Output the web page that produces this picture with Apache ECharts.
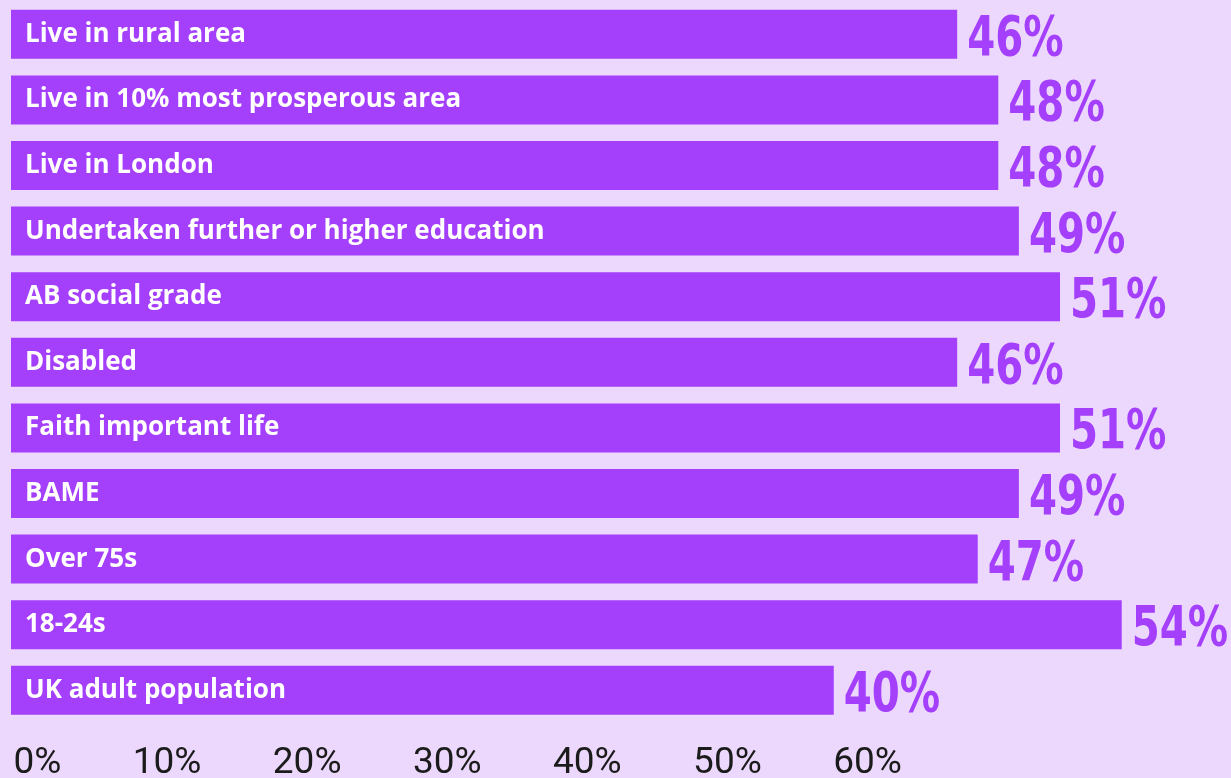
<!DOCTYPE html>
<html>
<head>
<meta charset="utf-8">
<script src="https://cdn.jsdelivr.net/npm/echarts@6/dist/echarts.min.js"></script>
<style>
html,body{margin:0;padding:0;background:#ECD8FC;}
#chart{width:1231px;height:778px;}
</style>
</head>
<body>
<div id="chart"></div>
<script>
const categories = [
  "Live in rural area",
  "Live in 10% most prosperous area",
  "Live in London",
  "Undertaken further or higher education",
  "AB social grade",
  "Disabled",
  "Faith important life",
  "BAME",
  "Over 75s",
  "18-24s",
  "UK adult population"
];
const values = [46, 48, 48, 49, 51, 46, 51, 49, 47, 54, 40];
const tickLabels = ["0%", "10%", "20%", "30%", "40%", "50%", "60%"];

const purple = '#A43FFB';
const chart = echarts.init(document.getElementById('chart'), null, {renderer: 'canvas'});
chart.setOption({
  backgroundColor: '#ECD8FC',
  animation: false,
  grid: [
    {left: 11, right: 27, top: 1.5, height: 721.6, containLabel: false, outerBoundsMode: 'none'},
    {left: 61.3, width: 840.6, top: 713.5, height: 50, containLabel: false, outerBoundsMode: 'none'}
  ],
  xAxis: [
    {type: 'value', gridIndex: 0, min: 0, max: 58, show: false},
    {type: 'value', gridIndex: 1, min: 0, max: 60, interval: 10,
     axisLine: {show: false}, axisTick: {show: false}, splitLine: {show: false},
     axisLabel: {show: true, margin: 0, align: 'right', verticalAlign: 'middle',
       fontFamily: 'Roboto', fontSize: 37, color: '#1b1b1b',
       showMinLabel: true, showMaxLabel: true, hideOverlap: false,
       formatter: function (v) { return tickLabels[Math.round(v / 10)]; }}}
  ],
  yAxis: [
    {type: 'category', gridIndex: 0, data: categories, inverse: true, show: false},
    {type: 'value', gridIndex: 1, show: false, min: 0, max: 1}
  ],
  series: [
    {
      type: 'bar', xAxisIndex: 0, yAxisIndex: 0,
      data: values, barWidth: 49,
      itemStyle: {color: purple},
      label: {show: true, position: 'insideLeft', distance: 14,
        formatter: function (p) { return p.name; },
        color: '#ffffff', fontFamily: 'Open Sans', fontWeight: 'bold', fontSize: 26}
    },
    {
      type: 'custom', xAxisIndex: 0, yAxisIndex: 0,
      data: values.map(function (v, i) { return [v, i]; }),
      encode: {x: 0, y: 1},
      silent: true,
      renderItem: function (params, api) {
        const pt = api.coord([api.value(0), api.value(1)]);
        return {
          type: 'text',
          x: pt[0] + 10,
          y: pt[1] + 6,
          scaleX: 0.8,
          style: {
            text: api.value(0) + '%',
            fill: purple,
            font: "bold 56px 'DejaVu Sans Condensed', 'DejaVu Sans', sans-serif",
            align: 'left',
            verticalAlign: 'middle'
          }
        };
      }
    },
    {type: 'scatter', xAxisIndex: 1, yAxisIndex: 1, data: [], silent: true}
  ]
});
</script>
</body>
</html>
